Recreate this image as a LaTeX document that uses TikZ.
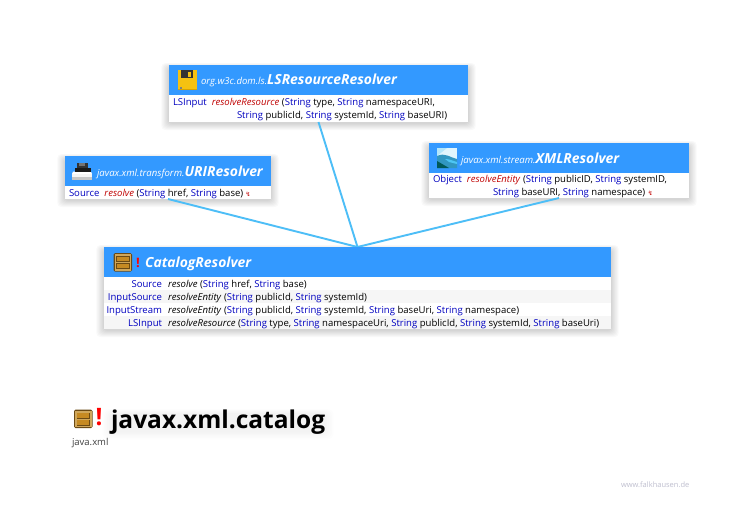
\documentclass[tikz,border=0pt]{standalone}
\usepackage{fontspec}
\setmainfont{Open Sans}
\newfontfamily\symfont{DejaVu Sans}
\definecolor{hdr}{HTML}{3399FF}
\definecolor{kw}{HTML}{0000C0}
\definecolor{mth}{HTML}{C00000}
\definecolor{edge}{HTML}{4DBEF7}
\definecolor{rowgrey}{HTML}{F6F6F6}
\definecolor{gold}{HTML}{F5C211}
\definecolor{golddk}{HTML}{D9A400}
\definecolor{cabedge}{HTML}{6B4A14}
\definecolor{cabtan}{HTML}{CFA75C}
\definecolor{cabdraw}{HTML}{C68A22}
\newcommand{\kw}[1]{\textcolor{kw}{#1}}
\newcommand{\mth}[1]{\textcolor{mth}{\textit{#1}}}
\newcommand{\St}{\kw{String}}
\newcommand{\bolt}{\textcolor{mth}{\symfont\fontsize{6}{6}\selectfont ↯}}
\newcommand{\softshadow}[4]{%
  \foreach \g in {1,...,7}{
    \fill[black,opacity=0.024,rounded corners=4pt]
      ({#1-\g*1.1},{#2-\g*0.7+3}) rectangle ({#3+\g*1.1},{#4+\g*1.0+1});
  }}
\newcommand{\cabinet}[2]{%
  \fill[cabedge,rounded corners=1.5pt] (#1,#2) rectangle ++(18.5,18.5);
  \fill[cabtan] ({#1+1},{#2+1}) rectangle ++(16.5,16.5);
  \fill[cabedge] ({#1+2.5},{#2+3}) rectangle ++(13.5,6);
  \fill[cabedge] ({#1+2.5},{#2+10}) rectangle ++(13.5,6);
  \fill[cabdraw] ({#1+3.2},{#2+3.8}) rectangle ++(12.1,4.4);
  \fill[cabdraw] ({#1+3.2},{#2+10.8}) rectangle ++(12.1,4.4);
}
\tikzset{
  x=1pt,y=-1pt,
  every node/.style={inner sep=0pt,outer sep=0pt},
  card/.style={anchor=north west,fill=white,draw=none},
  head/.style={anchor=north west,fill=hdr},
  pkg/.style={anchor=base west,text=white,font=\fontsize{9.6}{9.6}\selectfont\itshape},
  cls/.style={anchor=base west,text=white,font=\fontsize{13.9}{13.9}\selectfont\bfseries\itshape},
  row/.style={anchor=base west,font=\fontsize{9.55}{9.55}\selectfont},
  rowr/.style={anchor=base east,font=\fontsize{9.55}{9.55}\selectfont},
  conn/.style={draw=edge,line width=1.9pt},
}
\begin{document}
\begin{tikzpicture}
\useasboundingbox (0,0) rectangle (745,530);
\fill[white] (0,0) rectangle (745,530);
% shadows
\softshadow{169}{65}{468}{122}
\softshadow{65}{156}{271}{199}
\softshadow{429}{143}{689}{198}
\softshadow{104}{247}{611}{329}
\foreach \g in {1,...,6}{\fill[black,opacity=0.009,rounded corners=6pt] ({112-\g*1.6},{414-\g*0.8}) rectangle ({324+\g*1.6},{431+\g*1.4});}
% cards
\node[card,minimum width=299pt,minimum height=57pt] (ls) at (169,65) {};
\node[card,minimum width=206pt,minimum height=43pt] (uri) at (65,156) {};
\node[card,minimum width=260pt,minimum height=55pt] (xml) at (429,143) {};
\node[card,minimum width=507pt,minimum height=82pt] (cat) at (104,247) {};
% connectors
\draw[conn] (ls.south) -- (cat.north);
\draw[conn] (uri.south) -- (cat.north);
\draw[conn] (xml.south) -- (cat.north);
% headers
\node[head,minimum width=299pt,minimum height=30pt] (lsh) at (169,65) {};
\node[head,minimum width=206pt,minimum height=30pt] (urih) at (65,156) {};
\node[head,minimum width=260pt,minimum height=30pt] (xmlh) at (429,143) {};
\node[head,minimum width=507pt,minimum height=30pt] (cath) at (104,247) {};
% rows in catalog
\fill[rowgrey] (104,290) rectangle (611,303);
\fill[rowgrey] (104,316) rectangle (611,329);
% floppy icon
\fill[gold] (177.5,70) rectangle (197,90);
\fill[black!80] (181,70) rectangle (193,77.5);
\fill[gold] (188,71.5) rectangle (191,76.5);
\fill[golddk] (177.5,88.5) rectangle (197,90);
\fill[black!50] (180,87) rectangle (182,88.5);
% press icon
\fill[white] (73,171.5) -- (91,171.5) -- (92,174) -- (72,174) -- cycle;
\fill[black!4] (72,174) rectangle (92,177);
\fill[black!22] (72,177) rectangle (92,180);
\fill[black!80] (77,163) rectangle (88,171);
\fill[black!55] (79,162.5) rectangle (85,165.5);
\fill[black!90] (74.5,167.5) rectangle (90.5,171.5);
% landscape icon
\fill[cyan!12!white] (437,148) rectangle (457,168);
\fill[cyan!30!white] (437,148) -- (447,148) -- (437,156) -- cycle;
\fill[cyan!60!black!60!cyan] (437,156) .. controls (445,152) and (451,158) .. (457,159) -- (457,168) -- (437,168) -- cycle;
\fill[cyan!70!white] (445,159) .. controls (450,159) and (453,161) .. (457,162) -- (457,164) -- (449,162) -- cycle;
\fill[teal!70!black] (437,161) -- (449,168) -- (437,168) -- cycle;
% cabinets
\cabinet{113.5}{253}
\cabinet{74}{409.5}
% header text
\node[pkg] (t1) at (201,84.5) {org.w3c.dom.ls.};
\node[cls] (t2) at (t1.base east) {LSResourceResolver};
\node[pkg] (t3) at (97,176) {javax.xml.transform.};
\node[cls] (t4) at (t3.base east) {URIResolver};
\node[pkg] (t5) at (461,163) {javax.xml.stream.};
\node[cls] (t6) at (t5.base east) {XMLResolver};
\node[anchor=base,text=red,font=\fontsize{13}{13}\selectfont\bfseries] (b1) at (138,267) {!};
\node[cls] (t7) at (145,267) {CatalogResolver};
% method rows
\node[row] (r1) at (173,105) {\kw{LSInput}\hspace{5pt}\mth{resolveResource} (\St{} type, \St{} namespaceURI,};
\node[row] (r2) at (237,118) {\St{} publicId, \St{} systemId, \St{} baseURI)};
\node[row] (r3) at (69,196) {\kw{Source}\hspace{5pt}\mth{resolve} (\St{} href, \St{} base) \bolt};
\node[row] (r4) at (433,182) {\kw{Object}\hspace{5pt}\mth{resolveEntity} (\St{} publicID, \St{} systemID,};
\node[row] (r5) at (493,195) {\St{} baseURI, \St{} namespace) \bolt};
\node[rowr] (c1) at (162,287) {\kw{Source}};
\node[row] (m1) at (168,287) {\textit{resolve} (\St{} href, \St{} base)};
\node[rowr] (c2) at (162,300) {\kw{InputSource}};
\node[row] (m2) at (168,300) {\textit{resolveEntity} (\St{} publicId, \St{} systemId)};
\node[rowr] (c3) at (162,313) {\kw{InputStream}};
\node[row] (m3) at (168,313) {\textit{resolveEntity} (\St{} publicId, \St{} systemId, \St{} baseUri, \St{} namespace)};
\node[rowr] (c4) at (162,326) {\kw{LSInput}};
\node[row] (m4) at (168,326) {\textit{resolveResource} (\St{} type, \St{} namespaceUri, \St{} publicId, \St{} systemId, \St{} baseUri)};
% title
\node[anchor=base,text=red,font=\fontsize{24}{24}\selectfont\bfseries] (b2) at (99,425) {!};
\node[anchor=base west,font=\fontsize{24.5}{24.5}\selectfont\bfseries] (title) at (111,428) {javax.xml.catalog};
\node[anchor=base west,font=\fontsize{9.5}{9.5}\selectfont,text=black!75] (sub) at (72,445) {java.xml};
\node[anchor=base west,font=\fontsize{7.5}{7.5}\selectfont,text=blue!25!black!25] (www) at (621,487) {www.falkhausen.de};
\end{tikzpicture}
\end{document}
